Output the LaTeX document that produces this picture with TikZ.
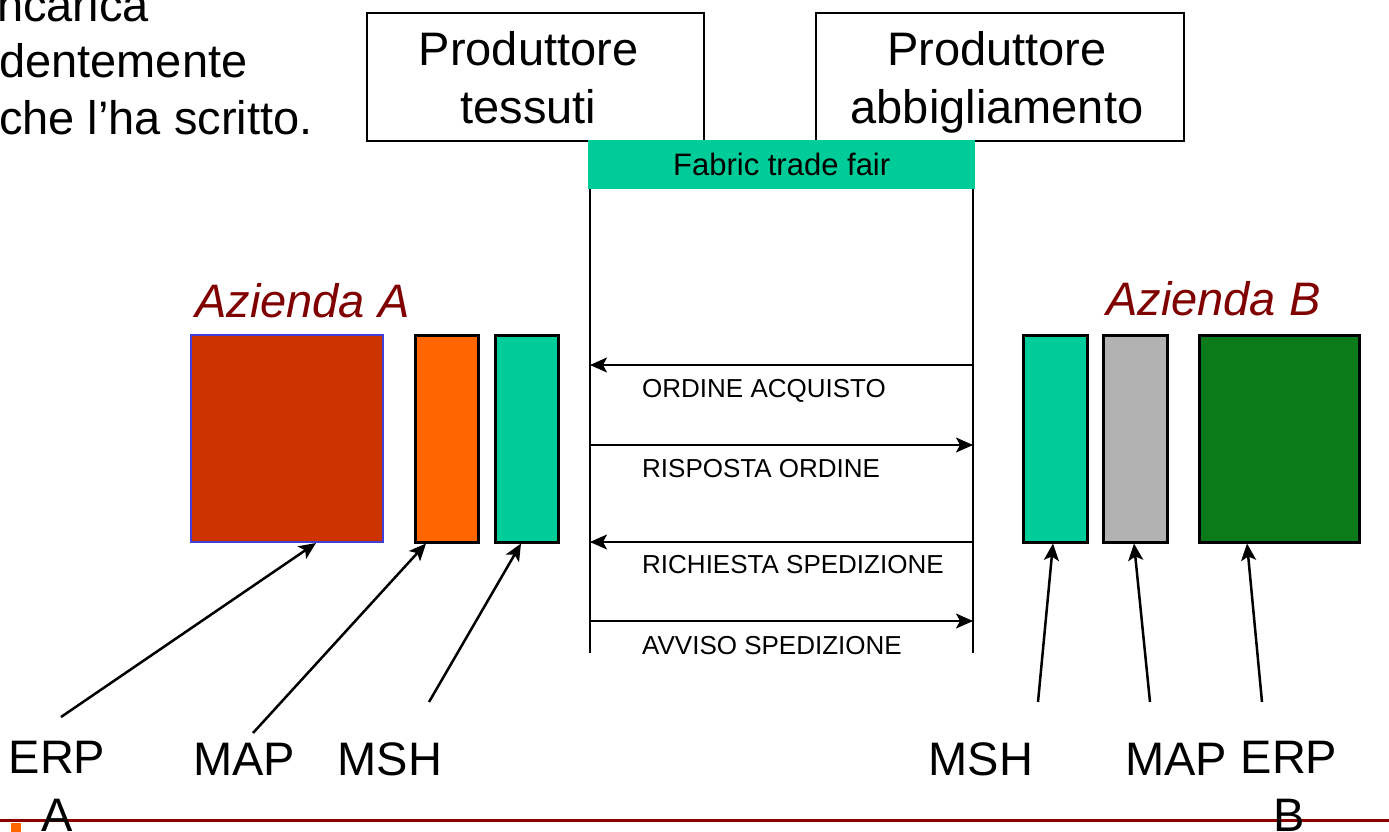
\documentclass[tikz,border=0pt]{standalone}
\usepackage{fontspec}
\setmainfont{Liberation Sans}
\usetikzlibrary{arrows.meta,calc}
\definecolor{brickred}{HTML}{CC3300}
\definecolor{orangeA}{HTML}{FF6600}
\definecolor{tealmsh}{HTML}{00CC99}
\definecolor{grayB}{HTML}{B2B2B2}
\definecolor{greenB}{HTML}{0B7B1A}
\definecolor{maroon}{HTML}{800000}
\definecolor{rulered}{HTML}{8B0000}
\definecolor{bluedge}{HTML}{4040D8}
\begin{document}
\begin{tikzpicture}[x=1pt,y=-1pt,
  bigtext/.style={font=\fontsize{47}{58}\selectfont, inner sep=0pt},
  msgtext/.style={font=\fontsize{26}{30}\selectfont, anchor=base west, inner sep=0pt},
  company/.style={font=\fontsize{47}{58}\selectfont\itshape, text=maroon, anchor=base west, inner sep=0pt},
  prodbox/.style={draw, line width=2pt, inner sep=0pt, anchor=north west, minimum height=128},
  block/.style={draw=black, line width=2.5pt, inner sep=0pt, anchor=north west, minimum height=207},
  headtip/.style={-{Stealth[length=17pt,width=15pt,inset=4pt]}},
  pointer/.style={line width=2.5pt, headtip},
  message/.style={line width=2pt, headtip},
  lifeline/.style={line width=2pt}]
\useasboundingbox (0,0) rectangle (1389,831);
\clip (0,0) rectangle (1389,831);
\fill[white] (0,0) rectangle (1389,831);

% paragraph lines running in from the left
\node[bigtext, anchor=base west] (p1) at (-3,21) {ncarica};
\node[bigtext, anchor=base west] (p2) at (-1,77) {dentemente};
\node[bigtext, anchor=base west] (p3) at (-1,134) {che l’ha scritto.};

% the two producers
\node[prodbox, minimum width=337] (prodT) at (366,12) {};
\node[prodbox, minimum width=368] (prodA) at (815,12) {};
\node[bigtext, align=center, anchor=north] (prodTtxt) at ($(prodT.north)+(-7,19)$) {Produttore\\tessuti};
\node[bigtext, align=center, anchor=north] (prodAtxt) at ($(prodA.north)+(-3,19)$) {Produttore\\abbigliamento};

% trade fair header and its two lifelines
\node[fill=tealmsh, anchor=north west, minimum width=387, minimum height=49, inner sep=0pt,
      font=\fontsize{31}{36}\selectfont] (fair) at (588,140) {Fabric trade fair};
\coordinate (Ltop) at (590,189);
\coordinate (Lbot) at (590,653);
\coordinate (Rtop) at (973,189);
\coordinate (Rbot) at (973,653);
\draw[lifeline] (Ltop) -- (Lbot);
\draw[lifeline] (Rtop) -- (Rbot);

% exchanged messages
\coordinate (m1L) at (590,365); \coordinate (m1R) at (973,365);
\coordinate (m2L) at (590,445); \coordinate (m2R) at (973,445);
\coordinate (m3L) at (590,542); \coordinate (m3R) at (973,542);
\coordinate (m4L) at (590,621); \coordinate (m4R) at (973,621);
\draw[message] (m1R) -- (m1L);
\draw[message] (m2L) -- (m2R);
\draw[message] (m3R) -- (m3L);
\draw[message] (m4L) -- (m4R);
\node[msgtext] (t1) at (642,397) {ORDINE ACQUISTO};
\node[msgtext] (t2) at (642,477) {RISPOSTA ORDINE};
\node[msgtext] (t3) at (642,573) {RICHIESTA SPEDIZIONE};
\node[msgtext] (t4) at (642,654) {AVVISO SPEDIZIONE};

% company A
\node[company] (cA) at (195,317) {Azienda A};
\node[block, draw=bluedge, line width=2pt, fill=brickred, minimum width=192] (erpA) at (190,334) {};
\node[block, fill=orangeA, minimum width=63] (mapA) at (414,334) {};
\node[block, fill=tealmsh, minimum width=63] (mshA) at (494,334) {};

% company B
\node[company] (cB) at (1106,315) {Azienda B};
\node[block, fill=tealmsh, minimum width=64] (mshB) at (1022,334) {};
\node[block, fill=grayB, minimum width=64] (mapB) at (1102,334) {};
\node[block, fill=greenB, minimum width=160] (erpB) at (1198,334) {};

% footer rule and bullet
\draw[rulered, line width=3pt] (0,820) -- (1389,820);
\fill[orangeA] (11,823) rectangle (21,834);

% component labels
\node[bigtext, anchor=north, align=center] (lERPa) at (57,741) {ERP\\A};
\node[bigtext, anchor=base] (lMAPa) at (244,775) {MAP};
\node[bigtext, anchor=base] (lMSHa) at (390,775) {MSH};
\node[bigtext, anchor=base] (lMSHb) at (981,775) {MSH};
\node[bigtext, anchor=base] (lMAPb) at (1176,775) {MAP};
\node[bigtext, anchor=north, align=center] (lERPb) at (1289,741) {ERP\\B};

% pointers from labels to components
\coordinate (sERPa) at (61,717);
\coordinate (sMAPa) at (253,733);
\coordinate (sMSHa) at (429,702);
\coordinate (sMSHb) at (1038,702);
\coordinate (sMAPb) at (1150,702);
\coordinate (sERPb) at (1262,702);
\draw[pointer] (sERPa) -- ($(erpA.south west)+(126,0)$);
\draw[pointer] (sMAPa) -- ($(mapA.south west)+(12,0)$);
\draw[pointer] (sMSHa) -- ($(mshA.south west)+(27,0)$);
\draw[pointer] (sMSHb) -- ($(mshB.south west)+(31,0)$);
\draw[pointer] (sMAPb) -- ($(mapB.south west)+(32,0)$);
\draw[pointer] (sERPb) -- ($(erpB.south west)+(49,0)$);
\end{tikzpicture}
\end{document}
